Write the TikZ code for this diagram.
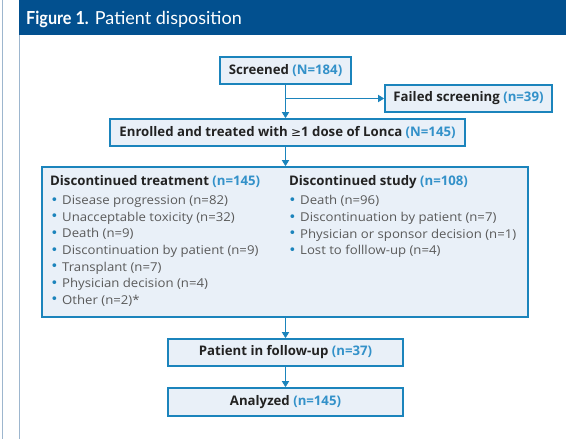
\documentclass[tikz,border=0pt]{standalone}
\usepackage{fontspec}
\setmainfont{Open Sans}
\newfontfamily\listfont[FakeStretch=1.08]{Open Sans}
\newfontfamily\headfont{Lato}
\newfontfamily\headbold[FakeStretch=0.9]{Lato}
\newfontfamily\symfont{DejaVu Sans}
\usetikzlibrary{arrows.meta}
\definecolor{hdr}{HTML}{02508F}
\definecolor{bord}{HTML}{1B84BC}
\definecolor{boxfill}{HTML}{E9F0F8}
\definecolor{lbl}{HTML}{3391C9}
\definecolor{txt}{HTML}{222222}
\definecolor{itm}{HTML}{5A5A5A}
\definecolor{edge}{HTML}{9DB6CE}
\newcommand{\nn}[1]{\textcolor{lbl}{#1}}
\newcommand{\bl}{\makebox[11.5pt][l]{\textcolor{bord}{\symfont\fontsize{13}{13}\selectfont\raisebox{0.3pt}{•}}}}
\begin{document}
\begin{tikzpicture}[x=1pt,y=-1pt,
  flowbox/.style={draw=bord,line width=1.6pt,fill=boxfill,inner sep=0pt,
    font=\fontsize{13.2}{15}\selectfont\bfseries,text=txt},
  hd/.style={anchor=base west,inner sep=0pt,text=txt,font=\fontsize{13.2}{15}\selectfont\bfseries},
  conn/.style={draw=bord,line width=1.4pt,-{Triangle[length=6pt,width=7pt]}},
  lst/.style={anchor=north west,align=left,inner sep=0pt,text=itm,
    font=\listfont\fontsize{12.2}{16.6}\selectfont}]
\useasboundingbox (0,0) rectangle (566,439);
\fill[white] (0,0) rectangle (566,439);
\draw[edge,line width=0.8pt] (2,0) -- (2,439);
\draw[edge,line width=0.8pt] (19.5,0) -- (19.5,439);
\fill[hdr] (19,0) rectangle (566,35);
\node[anchor=base west,inner sep=0pt,text=white,font=\headfont\fontsize{18}{20}\selectfont] (title) at (26,24.5) {{\headbold\bfseries Figure 1.} Patient disposition};
% boxes
\node[flowbox,minimum width=131pt,minimum height=27pt] (scr) at (285.5,70.5) {Screened \nn{(N=184)}};
\node[flowbox,minimum width=167pt,minimum height=27pt] (fail) at (468.5,98.5) {Failed screening \nn{(n=39)}};
\node[flowbox,minimum width=355pt,minimum height=27pt] (enr) at (287.5,132.5) {Enrolled and treated with {\symfont\mdseries\fontsize{12}{14}\selectfont≥}1 dose of Lonca \nn{(N=145)}};
\node[flowbox,minimum width=486pt,minimum height=150pt] (disc) at (285,242) {};
\node[flowbox,minimum width=235pt,minimum height=27pt] (fu) at (285.5,352.5) {Patient in follow-up \nn{(n=37)}};
\node[flowbox,minimum width=235pt,minimum height=28pt] (an) at (285.5,402) {Analyzed \nn{(n=145)}};
% list contents
\node[hd] (h1) at (50,185.5) {Discontinued treatment \nn{(n=145)}};
\node[hd] (h2) at (289,185.5) {Discontinued study \nn{(n=108)}};
\node[lst] (l1) at (50.5,195.5) {\bl Disease progression (n=82)\\ \bl Unacceptable toxicity (n=32)\\ \bl Death (n=9)\\ \bl Discontinuation by patient (n=9)\\ \bl Transplant (n=7)\\ \bl Physician decision (n=4)\\ \bl Other (n=2)*};
\node[lst] (l2) at (288.5,195.5) {\bl Death (n=96)\\ \bl Discontinuation by patient (n=7)\\ \bl Physician or sponsor decision (n=1)\\ \bl Lost to folllow-up (n=4)};
% connectors
\coordinate (br) at (scr.south |- fail.west);
\draw[conn] (scr.south) -- (scr.south |- enr.north);
\draw[conn] (br) -- (fail.west);
\draw[conn] (scr.south |- enr.south) -- (scr.south |- disc.north);
\draw[conn] (scr.south |- disc.south) -- (fu.north);
\draw[conn] (fu.south) -- (an.north);
\end{tikzpicture}
\end{document}
